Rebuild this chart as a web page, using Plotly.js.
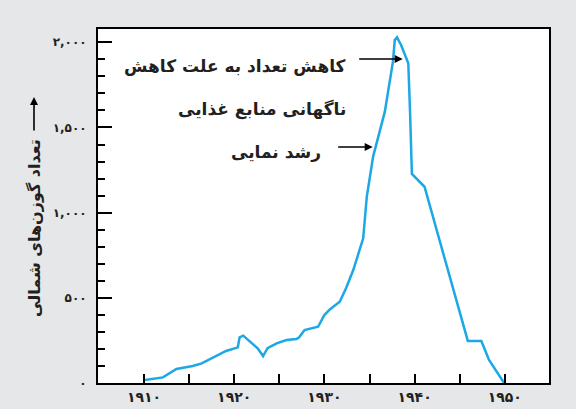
<!DOCTYPE html>
<html>
<head>
<meta charset="utf-8">
<script src="https://cdn.plot.ly/plotly-3.0.1.min.js"></script>
<style>
html,body{margin:0;padding:0;background:#e6e7e8;}
#chart{width:576px;height:409px;}
</style>
</head>
<body>
<div id="chart"></div>
<script>
// Data (year, population)
const years = [1910.1, 1912.1, 1913.6, 1915.4, 1916.4, 1917.65, 1919.1, 1920.4, 1920.6, 1921.0, 1921.7, 1922.6, 1923.2, 1923.7, 1924.7, 1925.8, 1926.9, 1927.2, 1927.8, 1929.3, 1930.0, 1930.6, 1931.7, 1932.4, 1933.2, 1934.3, 1934.7, 1935.4, 1936.7, 1937.6, 1937.8, 1938.05, 1938.5, 1939.3, 1939.5, 1939.7, 1941.1, 1945.9, 1947.4, 1948.25, 1949.9];
const population = [18, 33, 82, 100, 115, 151, 188, 209, 268, 278, 248, 204, 158, 204, 233, 252, 258, 268, 311, 330, 399, 432, 477, 556, 663, 849, 1094, 1329, 1593, 1886, 2013, 2029, 1984, 1877, 1583, 1227, 1152, 247, 247, 135, 2];

const xTickVals = [1910, 1915, 1920, 1925, 1930, 1935, 1940, 1945, 1950];
const xTickText = ['۱۹۱۰', '', '۱۹۲۰', '', '۱۹۳۰', '', '۱۹۴۰', '', '۱۹۵۰'];
const yTickVals = [0, 500, 1000, 1500, 2000];
const yTickText = ['۰', '۵۰۰', '۱,۰۰۰', '۱,۵۰۰', '۲,۰۰۰'];

const yTitle = 'تعداد گوزن‌های شمالی';
const note1 = 'کاهش تعداد به علت کاهش';
const note2 = 'ناگهانی منابع غذایی';
const note3 = 'رشد نمایی';

const FONT = '"DejaVu Sans", "Noto Sans", sans-serif';
const txt = '#231f20';

const trace = {
  x: years, y: population, type: 'scatter', mode: 'lines',
  line: {color: '#1ba8e4', width: 2.5},
  hoverinfo: 'skip'
};

const layout = {
  width: 576, height: 409,
  margin: {l: 98, r: 27, t: 29, b: 26, pad: 0},
  paper_bgcolor: '#e6e7e8',
  plot_bgcolor: '#ffffff',
  showlegend: false,
  font: {family: FONT, color: txt},
  xaxis: {
    range: [1904.9, 1954.9],
    tickmode: 'array', tickvals: xTickVals, ticktext: xTickText,
    ticks: 'inside', ticklen: 9, tickwidth: 2, tickcolor: '#000',
    showline: true, mirror: true, linewidth: 2, linecolor: '#000',
    showgrid: false, zeroline: false,
    tickfont: {family: FONT, size: 14, color: txt, weight: 'bold'}
  },
  yaxis: {
    range: [0, 2078],
    tickmode: 'array', tickvals: yTickVals, ticktext: yTickText,
    ticks: 'inside', ticklen: 14, tickwidth: 2, tickcolor: '#000',
    minor: {tick0: 0, dtick: 100, ticks: 'inside', ticklen: 7, tickwidth: 2, tickcolor: '#000', showgrid: false},
    showline: true, mirror: true, linewidth: 2, linecolor: '#000',
    showgrid: false, zeroline: false,
    ticklabelstandoff: 7,
    tickfont: {family: FONT, size: 12, color: txt, weight: 'bold'}
  },
  annotations: [
    {xref: 'paper', yref: 'paper', x: -0.1397, y: 0.438, xanchor: 'center', yanchor: 'middle',
     text: yTitle, textangle: -90,
     showarrow: false, font: {family: FONT, size: 16, color: txt, weight: 'bold'}},
    {xref: 'paper', yref: 'paper', x: -0.1419, y: 0.808, text: '', showarrow: true,
     ax: 0, ay: 35, arrowhead: 2, arrowsize: 1, arrowwidth: 1.6, arrowcolor: '#000'},
    {xref: 'x', yref: 'y', x: 1932.57, y: 1861, xanchor: 'right', yanchor: 'middle', text: note1,
     showarrow: false, font: {family: FONT, size: 17, color: txt, weight: 'bold'}},
    {xref: 'x', yref: 'y', x: 1932.57, y: 1603, xanchor: 'right', yanchor: 'middle', text: note2,
     showarrow: false, font: {family: FONT, size: 17, color: txt, weight: 'bold'}},
    {xref: 'x', yref: 'y', x: 1929.8, y: 1356, xanchor: 'right', yanchor: 'middle', text: note3,
     showarrow: false, font: {family: FONT, size: 17, color: txt, weight: 'bold'}},
    {xref: 'x', yref: 'y', x: 1938.68, y: 1902, axref: 'x', ayref: 'y', ax: 1933.69, ay: 1902,
     text: '', showarrow: true, arrowhead: 2, arrowsize: 1, arrowwidth: 1.6, arrowcolor: '#000'},
    {xref: 'x', yref: 'y', x: 1935.35, y: 1385, axref: 'x', ayref: 'y', ax: 1931.36, ay: 1385,
     text: '', showarrow: true, arrowhead: 2, arrowsize: 1, arrowwidth: 1.6, arrowcolor: '#000'}
  ]
};

Plotly.newPlot('chart', [trace], layout, {displayModeBar: false, staticPlot: true});
</script>
</body>
</html>
